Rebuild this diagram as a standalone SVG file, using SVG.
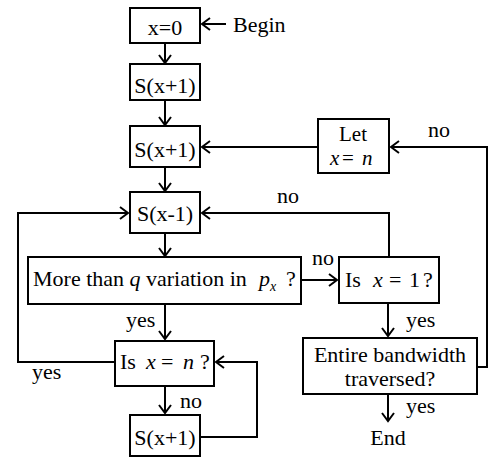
<svg xmlns="http://www.w3.org/2000/svg" width="489" height="458" viewBox="0 0 489 458">
<defs>
<style>
.box{fill:#fff;stroke:#000;stroke-width:2}
.c{fill:none;stroke:#000;stroke-width:2}
text{font-family:"Liberation Serif","Times New Roman",serif;font-size:22px;fill:#000}
.i{font-style:italic}
.m{text-anchor:middle}
.s{font-size:21px}
</style>
<marker id="a" markerUnits="userSpaceOnUse" markerWidth="16" markerHeight="16" viewBox="-10 -8 12 16" refX="0" refY="0" orient="auto">
<path d="M-8,-6 L0,0 L-8,6" fill="none" stroke="#000" stroke-width="2"/>
</marker>
</defs>
<rect width="489" height="458" fill="#fff"/>
<g id="connectors">
<path class="c" d="M226,24 H202" marker-end="url(#a)"/>
<path class="c" d="M165,43 V63" marker-end="url(#a)"/>
<path class="c" d="M165,100 V125" marker-end="url(#a)"/>
<path class="c" d="M165,167 V191" marker-end="url(#a)"/>
<path class="c" d="M318,147 H202" marker-end="url(#a)"/>
<path class="c" d="M477,367 H487 V147 H391" marker-end="url(#a)"/>
<path class="c" d="M165,233 V256" marker-end="url(#a)"/>
<path class="c" d="M165,304 V339" marker-end="url(#a)"/>
<path class="c" d="M301,280 H337" marker-end="url(#a)"/>
<path class="c" d="M389,257 V213 H202" marker-end="url(#a)"/>
<path class="c" d="M388,303 V336" marker-end="url(#a)"/>
<path class="c" d="M388,394 V421" marker-end="url(#a)"/>
<path class="c" d="M115,362 H18 V213 H128" marker-end="url(#a)"/>
<path class="c" d="M165,386 V413" marker-end="url(#a)"/>
<path class="c" d="M200,437 H257 V362 H216" marker-end="url(#a)"/>
<text x="277" y="203">no</text>
<text x="312" y="265">no</text>
<text x="126" y="327">yes</text>
<text x="32" y="379">yes</text>
<text x="180" y="408">no</text>
<text x="406" y="327">yes</text>
<text x="406" y="413">yes</text>
<text x="428" y="137">no</text>
</g>
<g id="begin"><text x="233" y="32">Begin</text></g>
<g id="init"><rect class="box" x="130" y="8" width="70" height="35"/><text class="m" x="165" y="35">x=0</text></g>
<g id="s1"><rect class="box" x="130" y="64" width="70" height="36"/><text class="m" x="165" y="93">S(x+1)</text></g>
<g id="s2"><rect class="box" x="130" y="126" width="70" height="41"/><text class="m" x="165" y="157">S(x+1)</text></g>
<g id="let"><rect class="box" x="318" y="119" width="71" height="54"/><text class="m s" x="353" y="141">Let</text><text class="s" x="330" y="165"><tspan class="i">x</tspan><tspan x="342">=</tspan><tspan class="i" x="362">n</tspan></text></g>
<g id="sminus"><rect class="box" x="130" y="192" width="70" height="41"/><text class="m" x="165" y="221">S(x-1)</text></g>
<g id="more"><rect class="box" x="28" y="257" width="273" height="47"/><text x="33" y="286">More than <tspan class="i">q</tspan> variation in <tspan class="i" x="259">p</tspan><tspan class="i" font-size="14" dy="5">x</tspan><tspan x="286" dy="-5">?</tspan></text></g>
<g id="isx1"><rect class="box" x="339" y="257" width="100" height="46"/><text x="345" y="287">Is<tspan class="i" x="373">x</tspan><tspan x="389">=</tspan><tspan x="409">1</tspan><tspan x="423">?</tspan></text></g>
<g id="entire"><rect class="box" x="303" y="338" width="174" height="56"/><text class="m" x="390" y="362">Entire bandwidth</text><text class="m" x="390" y="386">traversed?</text></g>
<g id="end"><text class="m" x="388" y="445">End</text></g>
<g id="isxn"><rect class="box" x="115" y="341" width="99" height="45"/><text x="120" y="369">Is<tspan class="i" x="146">x</tspan><tspan x="161">=</tspan><tspan class="i" x="183">n</tspan><tspan x="200">?</tspan></text></g>
<g id="s3"><rect class="box" x="130" y="415" width="70" height="41"/><text class="m" x="165" y="445">S(x+1)</text></g>
</svg>
